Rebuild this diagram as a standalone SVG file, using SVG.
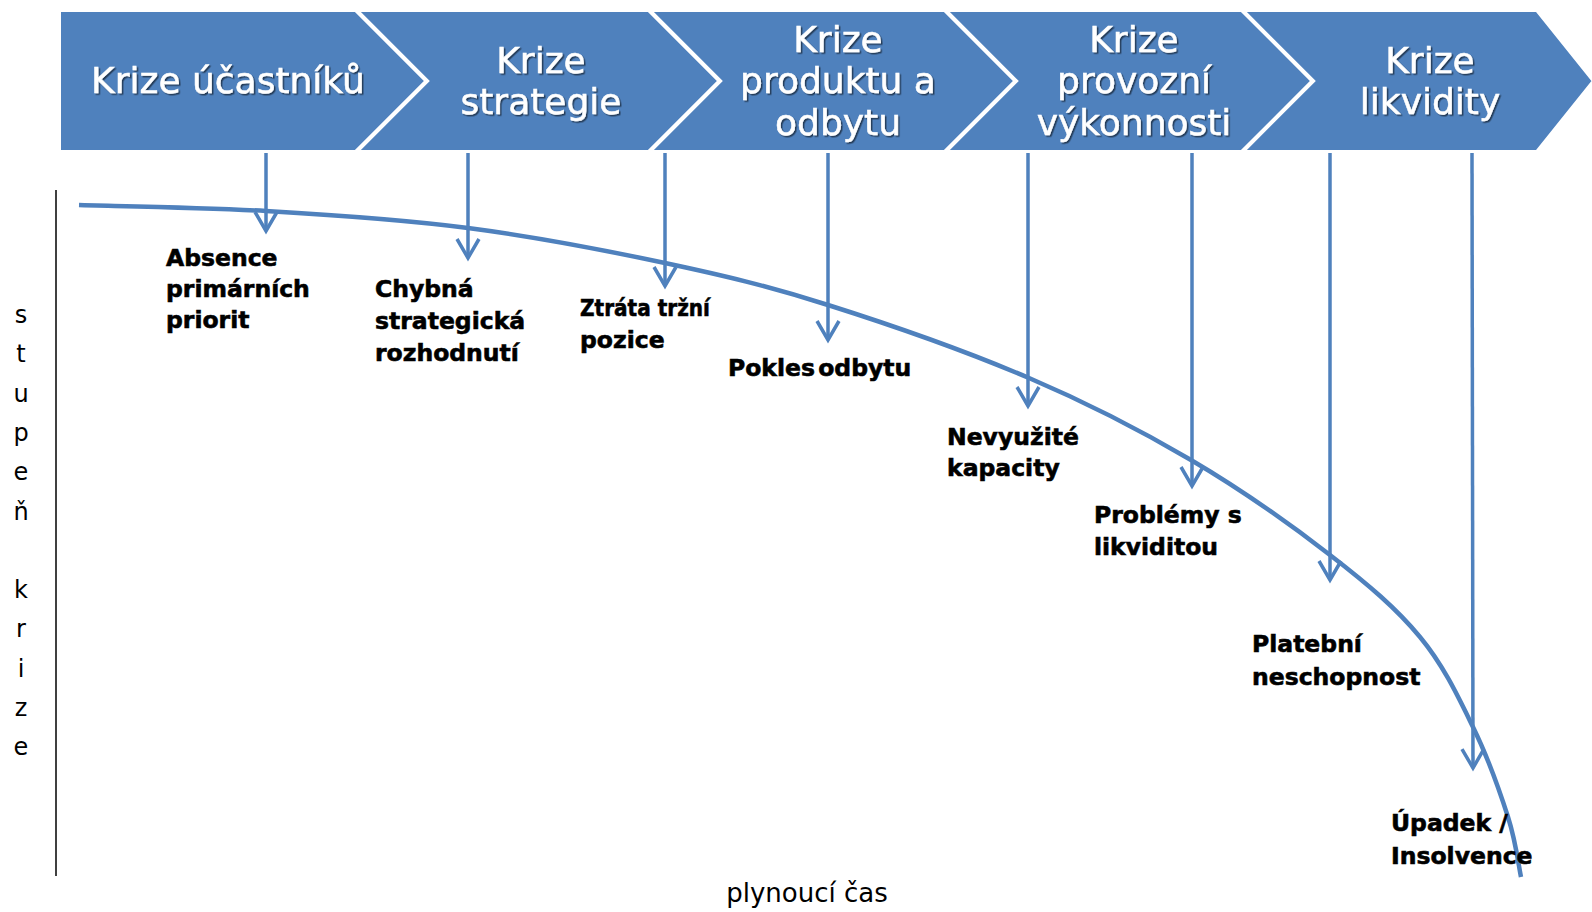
<svg xmlns="http://www.w3.org/2000/svg" width="1592" height="912" viewBox="0 0 1592 912">
  <defs>
    <style>
      .chev { fill: #4F81BD; stroke: #FFFFFF; stroke-width: 4; stroke-linejoin: miter; }
      .ctext { fill: #FFFFFF; stroke: #FFFFFF; stroke-width: 0.5; font-family: "DejaVu Sans", sans-serif; font-size: 36px; text-anchor: middle; filter: url(#shadow); }
      .lbl { fill: #000000; stroke: #000000; stroke-width: 0.6; font-family: "DejaVu Sans", sans-serif; font-weight: bold; font-size: 23.5px; }
      .axis { fill: #000000; font-family: "DejaVu Sans", sans-serif; font-size: 24px; text-anchor: middle; }
      .arrow { stroke: #4F81BD; stroke-width: 3.5; fill: none; marker-end: url(#vhead); }
      .curve { stroke: #4F81BD; stroke-width: 4.5; fill: none; stroke-linecap: butt; }
    </style>
    <filter id="shadow" x="-10%" y="-10%" width="130%" height="140%">
      <feDropShadow dx="1.5" dy="1.5" stdDeviation="0.6" flood-color="#000000" flood-opacity="0.55"/>
    </filter>
    <marker id="vhead" markerUnits="userSpaceOnUse" markerWidth="40" markerHeight="40" refX="0" refY="0" orient="auto" overflow="visible">
      <path d="M-19,-11 L0,0 L-19,11" fill="none" stroke="#4F81BD" stroke-width="3.5" stroke-linejoin="miter"/>
    </marker>
  </defs>

  <rect x="0" y="0" width="1592" height="912" fill="#FFFFFF"/>

  <!-- chevron process band -->
  <g id="chevron-1">
    <polygon class="chev" points="59,10 356,10 427,81 356,152 59,152"/>
    <text class="ctext" x="228" y="93">Krize účastníků</text>
  </g>
  <g id="chevron-2">
    <polygon class="chev" points="356,10 649,10 720,81 649,152 356,152 427,81"/>
    <text class="ctext" x="541" y="73">Krize</text>
    <text class="ctext" x="541" y="114">strategie</text>
  </g>
  <g id="chevron-3">
    <polygon class="chev" points="649,10 945,10 1016,81 945,152 649,152 720,81"/>
    <text class="ctext" x="838" y="52">Krize</text>
    <text class="ctext" x="838" y="93">produktu a</text>
    <text class="ctext" x="838" y="135">odbytu</text>
  </g>
  <g id="chevron-4">
    <polygon class="chev" points="945,10 1242,10 1313,81 1242,152 945,152 1016,81"/>
    <text class="ctext" x="1134" y="52">Krize</text>
    <text class="ctext" x="1134" y="93">provozní</text>
    <text class="ctext" x="1134" y="135">výkonnosti</text>
  </g>
  <g id="chevron-5">
    <polygon class="chev" points="1242,10 1537,10 1594,81 1537,152 1242,152 1313,81"/>
    <text class="ctext" x="1430" y="73">Krize</text>
    <text class="ctext" x="1430" y="114">likvidity</text>
  </g>

  <!-- axis -->
  <g id="axis">
    <line x1="56" y1="190" x2="56" y2="876" stroke="#000000" stroke-width="1.5"/>
    <text class="axis" x="21" y="323">s</text>
    <text class="axis" x="21" y="362">t</text>
    <text class="axis" x="21" y="402">u</text>
    <text class="axis" x="21" y="441">p</text>
    <text class="axis" x="21" y="480">e</text>
    <text class="axis" x="21" y="520">ň</text>
    <text class="axis" x="21" y="598">k</text>
    <text class="axis" x="21" y="637">r</text>
    <text class="axis" x="21" y="677">i</text>
    <text class="axis" x="21" y="716">z</text>
    <text class="axis" x="21" y="755">e</text>
    <text class="axis" x="807" y="902" style="font-size:26px">plynoucí čas</text>
  </g>

  <!-- connectors -->
  <g id="connectors">
    <path id="crisis-curve" class="curve" d="M79,205 C110.2,206 201.2,207.2 266,211 C330.8,214.8 401.5,219.3 468,228 C534.5,236.7 605,250.2 665,263 C725,275.8 767.3,285.8 828,305 C888.7,324.2 968.5,352.2 1029,378 C1089.5,403.8 1140.8,430.5 1191,460 C1241.2,489.5 1291.8,525.5 1330,555 C1368.2,584.5 1396.2,608.3 1420,637 C1443.8,665.7 1458.3,697 1473,727 C1487.7,757 1500,792 1508,817 C1516,842 1518.8,867 1521,877"/>
    <line class="arrow" x1="266" y1="153" x2="266" y2="231"/>
    <line class="arrow" x1="468" y1="153" x2="468" y2="258"/>
    <line class="arrow" x1="665" y1="153" x2="665" y2="286"/>
    <line class="arrow" x1="828" y1="153" x2="828" y2="340"/>
    <line class="arrow" x1="1028" y1="153" x2="1028" y2="406"/>
    <line class="arrow" x1="1192" y1="153" x2="1192" y2="486"/>
    <line class="arrow" x1="1330" y1="153" x2="1330" y2="580"/>
    <line class="arrow" x1="1472" y1="153" x2="1473" y2="768"/>
  </g>

  <!-- labels -->
  <g id="label-1">
    <text class="lbl" x="166" y="266">Absence</text>
    <text class="lbl" x="166" y="297">primárních</text>
    <text class="lbl" x="166" y="328">priorit</text>
  </g>
  <g id="label-2">
    <text class="lbl" x="375" y="297">Chybná</text>
    <text class="lbl" x="375" y="329">strategická</text>
    <text class="lbl" x="375" y="361">rozhodnutí</text>
  </g>
  <g id="label-3">
    <text class="lbl" x="580" y="316" textLength="130" lengthAdjust="spacingAndGlyphs">Ztráta tržní</text>
    <text class="lbl" x="580" y="348">pozice</text>
  </g>
  <g id="label-4">
    <text class="lbl" x="728" y="376" style="word-spacing:-5px">Pokles odbytu</text>
  </g>
  <g id="label-5">
    <text class="lbl" x="947" y="445">Nevyužité</text>
    <text class="lbl" x="947" y="476">kapacity</text>
  </g>
  <g id="label-6">
    <text class="lbl" x="1094" y="523">Problémy s</text>
    <text class="lbl" x="1094" y="555">likviditou</text>
  </g>
  <g id="label-7">
    <text class="lbl" x="1252" y="652">Platební</text>
    <text class="lbl" x="1252" y="685">neschopnost</text>
  </g>
  <g id="label-8">
    <text class="lbl" x="1391" y="831">Úpadek /</text>
    <text class="lbl" x="1391" y="864">Insolvence</text>
  </g>
</svg>
